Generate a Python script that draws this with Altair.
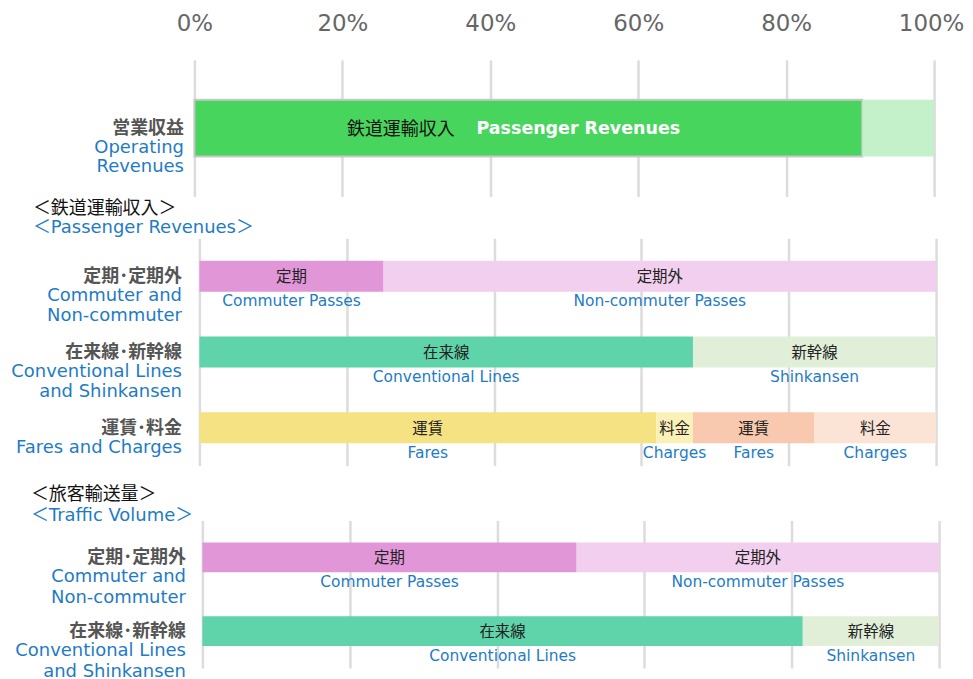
import altair as alt
import pandas as pd

# ---------------- data ----------------
axis_ticks = [0, 20, 40, 60, 80, 100]

# Section 1: operating revenues
op_row_jp = ["営業収益"]
op_row_en1 = ["Operating"]
op_row_en2 = ["Revenues"]
op_seg_row = [0, 0]
op_seg_jp = ["鉄道運輸収入", "その他"]
op_seg_en = ["Passenger Revenues", "Other"]
op_values = [90.3, 9.7]

# Section 2: passenger revenues
rev_header_jp = "＜鉄道運輸収入＞"
rev_header_en = "＜Passenger Revenues＞"
rev_row_jp = ["定期･定期外", "在来線･新幹線", "運賃･料金"]
rev_row_en1 = ["Commuter and", "Conventional Lines", "Fares and Charges"]
rev_row_en2 = ["Non-commuter", "and Shinkansen", ""]
rev_seg_row = [0, 0, 1, 1, 2, 2, 2, 2]
rev_seg_jp = ["定期", "定期外", "在来線", "新幹線", "運賃", "料金", "運賃", "料金"]
rev_seg_en = ["Commuter Passes", "Non-commuter Passes", "Conventional Lines",
              "Shinkansen", "Fares", "Charges", "Fares", "Charges"]
rev_values = [25.0, 75.0, 67.0, 33.0, 62.0, 5.0, 16.5, 16.5]

# Section 3: traffic volume
vol_header_jp = "＜旅客輸送量＞"
vol_header_en = "＜Traffic Volume＞"
vol_row_jp = ["定期･定期外", "在来線･新幹線"]
vol_row_en1 = ["Commuter and", "Conventional Lines"]
vol_row_en2 = ["Non-commuter", "and Shinkansen"]
vol_seg_row = [0, 0, 1, 1]
vol_seg_jp = ["定期", "定期外", "在来線", "新幹線"]
vol_seg_en = ["Commuter Passes", "Non-commuter Passes", "Conventional Lines", "Shinkansen"]
vol_values = [50.8, 49.2, 81.5, 18.5]

# ---------------- styles ----------------
op_colors = ["#48D55D", "#C4F1C9"]
rev_colors = ["#E196D8", "#F2CFEE", "#5FD3A9", "#E1EFD9",
              "#F5E283", "#FBF1B8", "#F8C9AE", "#FBE4D6"]
vol_colors = ["#E196D8", "#F2CFEE", "#5FD3A9", "#E1EFD9"]

BLUE = "#1E7BC6"
GRAY = "#555555"
EN_FONT = "'DejaVu Sans', 'Noto Sans CJK JP'"
JP_FONT = "'Noto Sans CJK JP'"
PANEL_W = 747
GRID = "#dcdcdc"


def seg_frame(prefix, seg_row, seg_jp, seg_en, values):
    df = pd.DataFrame({
        "row": [f"r{r}" for r in seg_row],
        "jp": seg_jp,
        "en": seg_en,
        "value": values,
    })
    df["key"] = [f"{prefix}{i}" for i in range(len(df))]
    df["end"] = df.groupby("row")["value"].cumsum()
    df["start"] = df["end"] - df["value"]
    df["mid"] = (df["start"] + df["end"]) / 2
    return df


def row_frame(row_jp, en1, en2):
    return pd.DataFrame({
        "row": [f"r{i}" for i in range(len(row_jp))],
        "jp": row_jp,
        "en1": en1,
        "en2": en2,
    })


def make_axis(top_axis):
    if top_axis:
        return alt.Axis(orient="top", values=axis_ticks, labelExpr="datum.value + '%'",
                        title=None, ticks=False, domain=False, grid=True,
                        gridColor=GRID, gridWidth=2.5, labelColor="#666666",
                        labelFont="DejaVu Sans", labelFontSize=23, labelPadding=24,
                        labelFlush=False, labelOverlap=False,
                        labelOffset={"condition": {"test": "datum.value === 100", "value": -3},
                                     "value": 0})
    return alt.Axis(orient="top", values=axis_ticks, labels=False, title=None,
                    ticks=False, domain=False, grid=True,
                    gridColor=GRID, gridWidth=2.5)


def panel(prefix, rows, segs, colors, height, bar_size, xrange, label_x,
          top_axis=False, inner_labels=True, en2_dy=40):
    row_keys = list(rows["row"])
    yscale = alt.Scale(domain=row_keys, paddingInner=0, paddingOuter=0)
    xscale = alt.Scale(domain=[0, 100], range=xrange, nice=False, zero=False)
    xaxis = make_axis(top_axis)
    y = alt.Y("row:N", scale=yscale, axis=None)
    base = alt.Chart(segs)
    bars = base.mark_bar(size=bar_size, strokeWidth=2).encode(
        x=alt.X("start:Q", scale=xscale, axis=xaxis),
        x2="end:Q",
        y=y,
        color=alt.Color("key:N", scale=alt.Scale(domain=list(segs["key"]), range=colors),
                        legend=None),
        stroke=alt.condition(f"datum.key == '{prefix}0' && {str(top_axis).lower()}",
                             alt.value("#c8c8c8"), alt.value("transparent")),
    )
    layers = [bars]
    xmid = alt.X("mid:Q", scale=xscale, axis=xaxis)
    if inner_labels:
        layers.append(base.mark_text(font=JP_FONT, fontSize=15.5, color="#222222",
                                     baseline="middle", dy=1).encode(
            x=xmid, y=y, text="jp:N"))
        layers.append(base.mark_text(font=EN_FONT, fontSize=15.5, color=BLUE,
                                     baseline="middle", dy=25).encode(
            x=xmid, y=y, text="en:N"))
    else:
        first = base.transform_filter(f"datum.key == '{prefix}0'")
        layers.append(first.mark_text(font=JP_FONT, fontSize=18, color="#111111",
                                      align="right", baseline="middle", dx=-74, dy=2).encode(
            x=xmid, y=y, text="jp:N"))
        layers.append(first.mark_text(font=EN_FONT, fontSize=17.5, fontWeight="bold",
                                      color="white", align="left", baseline="middle",
                                      dx=-52, dy=1).encode(
            x=xmid, y=y, text="en:N"))
    rbase = alt.Chart(rows)
    layers.append(rbase.mark_text(font=JP_FONT, fontSize=18, fontWeight="bold",
                                  color=GRAY, align="right", baseline="middle", dy=1).encode(
        x=alt.value(label_x), y=y, text="jp:N"))
    layers.append(rbase.mark_text(font=EN_FONT, fontSize=18, color=BLUE,
                                  align="right", baseline="middle", dy=20).encode(
        x=alt.value(label_x), y=y, text="en1:N"))
    layers.append(rbase.mark_text(font=EN_FONT, fontSize=18, color=BLUE,
                                  align="right", baseline="middle", dy=en2_dy).encode(
        x=alt.value(label_x), y=y, text="en2:N"))
    return alt.layer(*layers).properties(width=PANEL_W, height=height)


def header(jp, en, height, x, y_jp, y_en):
    df = pd.DataFrame({"jp": [jp], "en": [en]})
    b = alt.Chart(df)
    t1 = b.mark_text(font=JP_FONT, fontSize=18, color="#111111", align="left",
                     baseline="middle").encode(x=alt.value(x), y=alt.value(y_jp), text="jp:N")
    t2 = b.mark_text(font=EN_FONT, fontSize=18, color=BLUE, align="left",
                     baseline="middle").encode(x=alt.value(x), y=alt.value(y_en), text="en:N")
    return alt.layer(t1, t2).properties(width=PANEL_W, height=height)


# ---- panel 1 ----
op_segs = seg_frame("op", op_seg_row, op_seg_jp, op_seg_en, op_values)
op_rows = row_frame(op_row_jp, op_row_en1, op_row_en2)
p1 = panel("op", op_rows, op_segs, op_colors, 137, 57, [0, 742], -10.5,
           top_axis=True, inner_labels=False, en2_dy=39)

# ---- header 2 + panel 2 ----
h1 = header(rev_header_jp, rev_header_en, 42, -162, 13, 32)
rev_segs = seg_frame("rv", rev_seg_row, rev_seg_jp, rev_seg_en, rev_values)
rev_rows = row_frame(rev_row_jp, rev_row_en1, rev_row_en2)
p2 = panel("rv", rev_rows, rev_segs, rev_colors, 228, 31, [5, 744], -12.5)

# ---- header 3 + panel 3 ----
h2 = header(vol_header_jp, vol_header_en, 55, -164, 29, 51)
vol_segs = seg_frame("vl", vol_seg_row, vol_seg_jp, vol_seg_en, vol_values)
vol_rows = row_frame(vol_row_jp, vol_row_en1, vol_row_en2)
p3 = panel("vl", vol_rows, vol_segs, vol_colors, 148, 30, [8, 747], -8.5, en2_dy=41)

chart = alt.vconcat(p1, h1, p2, h2, p3, spacing=0, bounds="flush").resolve_scale(
    color="independent", x="independent", y="independent"
).properties(
    padding={"left": 2, "top": 3, "right": 0, "bottom": 0}
).configure_view(stroke="transparent")

chart.save("out.html", embed_options={"renderer": "svg", "actions": False})
